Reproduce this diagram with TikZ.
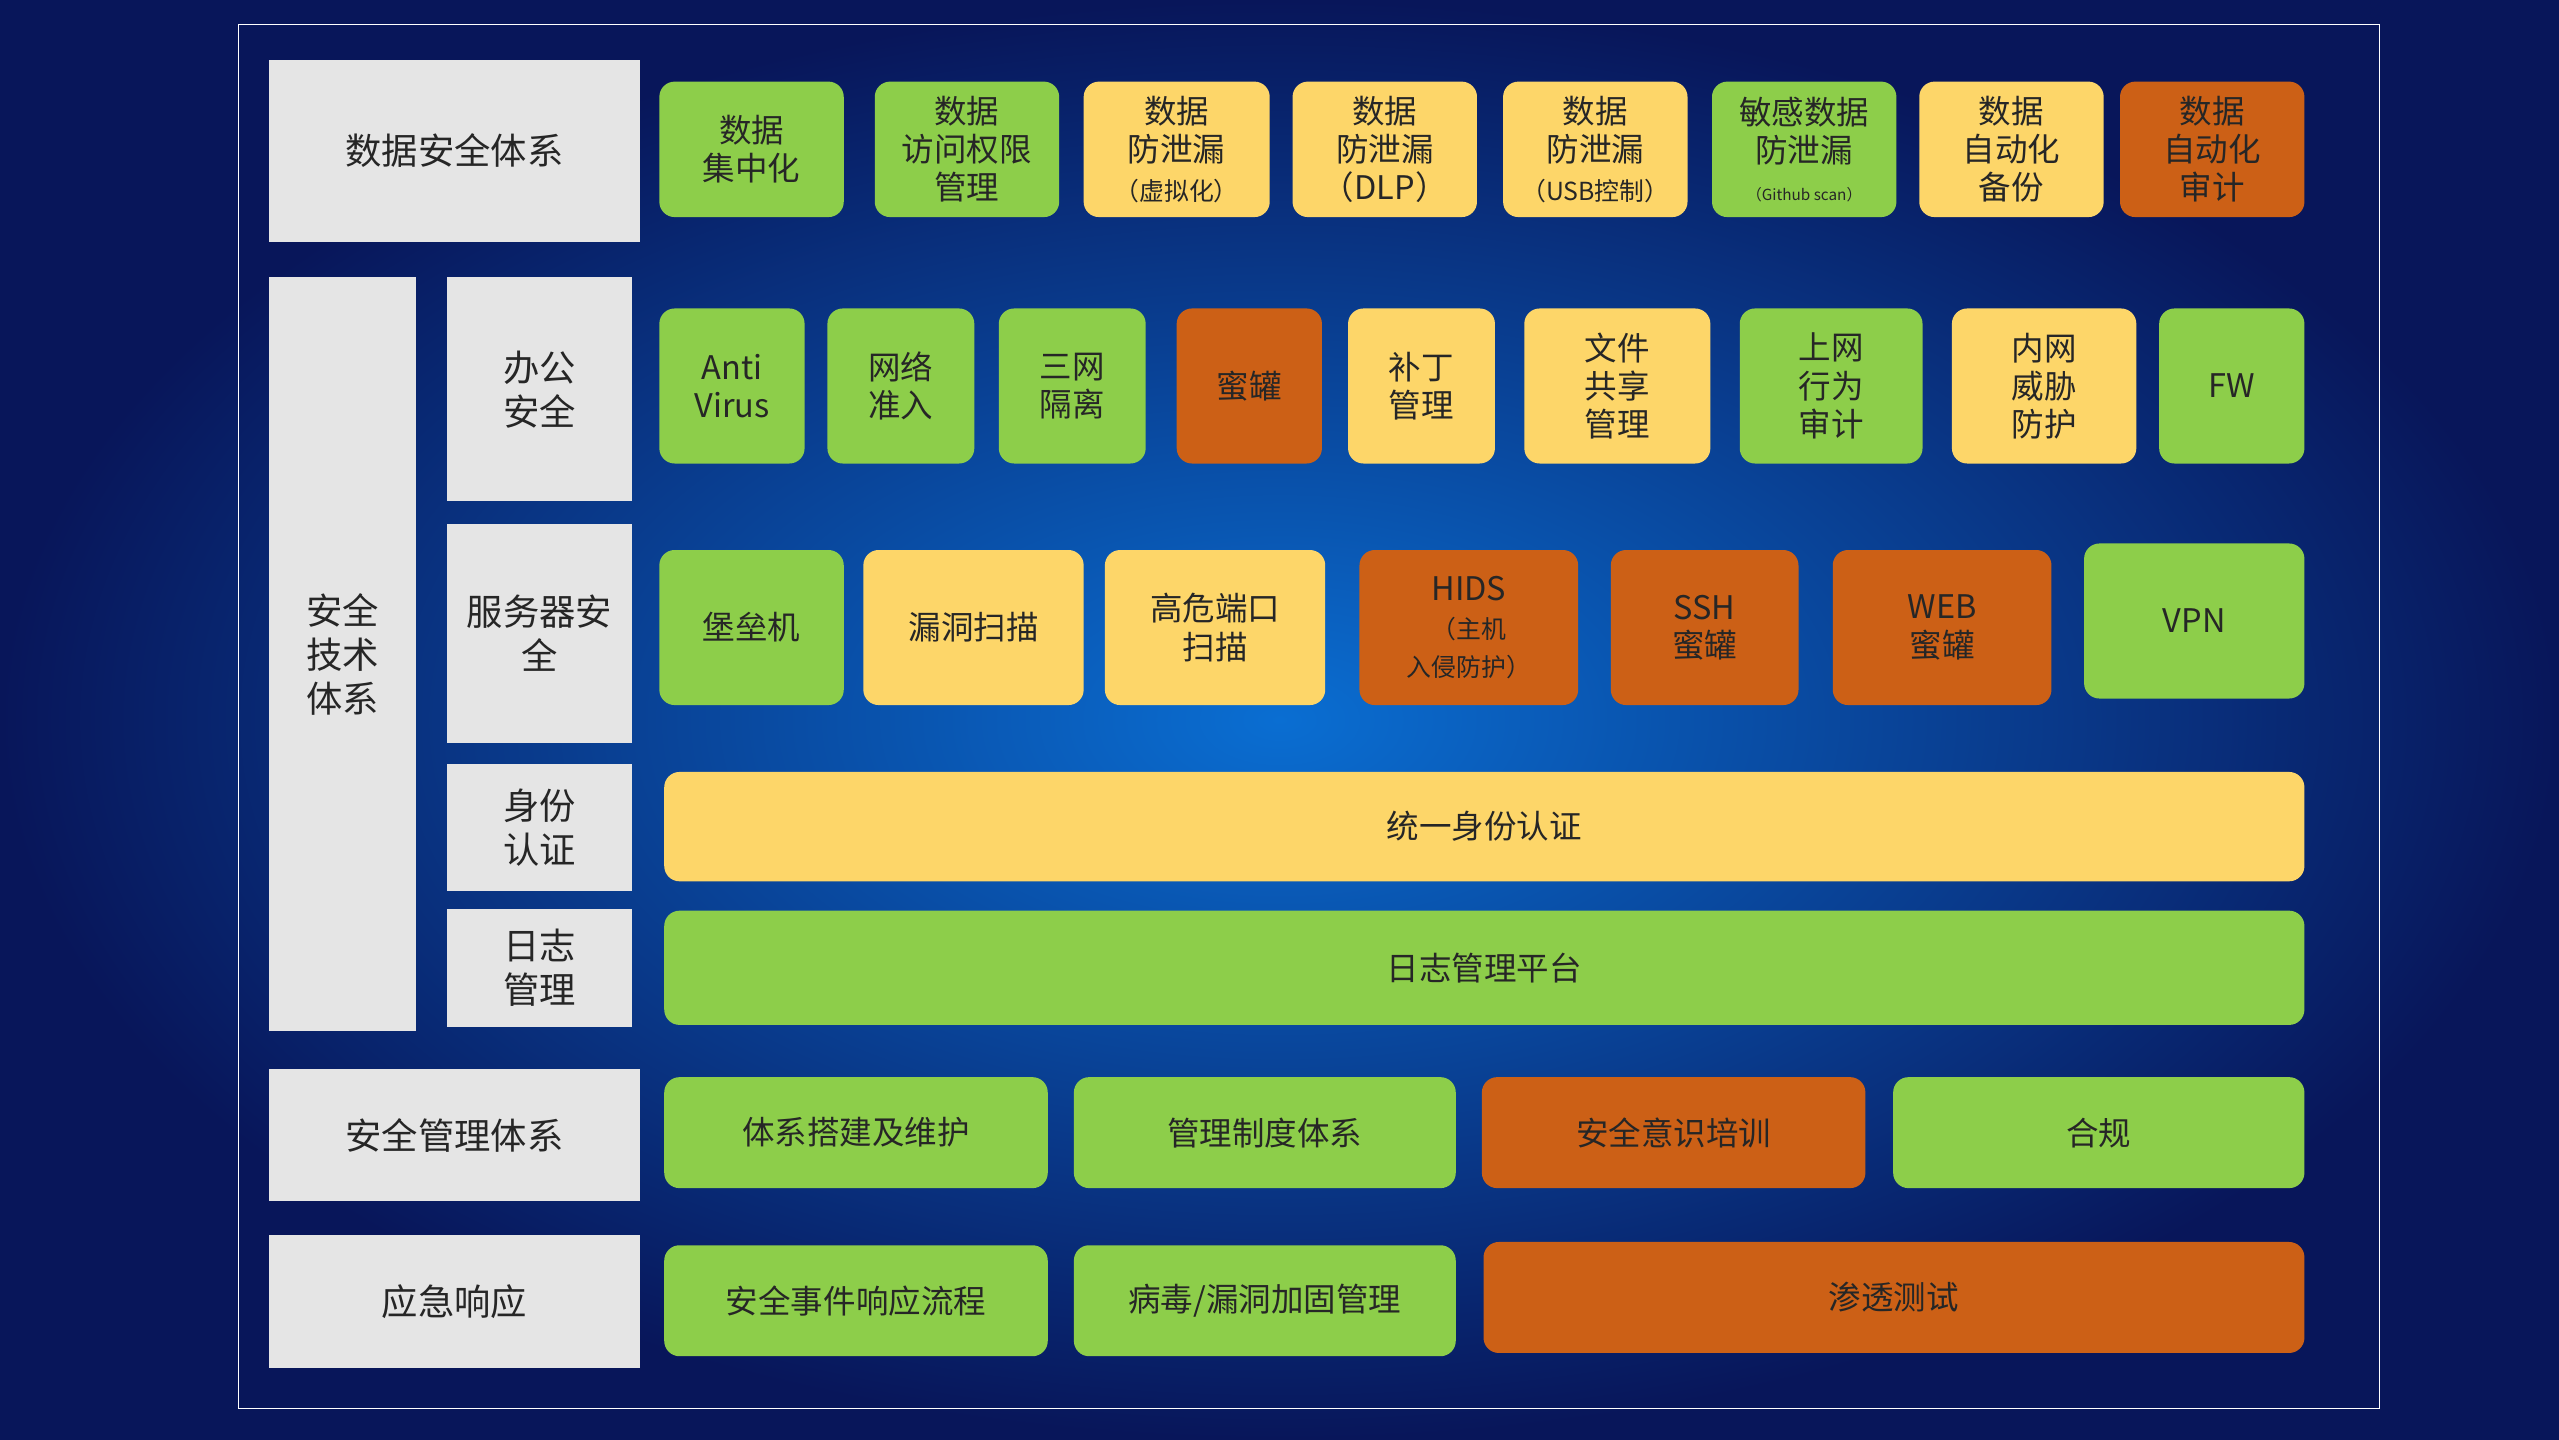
\documentclass[tikz,border=0pt]{standalone}
\usepackage{fontspec}
\setmainfont{Noto Sans CJK SC}
\begin{document}
\begin{tikzpicture}[x=0.03cm,y=-0.03cm,
  base/.style={inner sep=0pt,align=center,text=black!85,font=\fontsize{17}{20}\selectfont},
  gray/.style={base,fill=black!10,font=\fontsize{19}{23}\selectfont},
  grn/.style={base,fill=grnc,rounded corners=8pt},
  yel/.style={base,fill=yelc,rounded corners=8pt},
  org/.style={base,fill=orgc,rounded corners=8pt}]
\definecolor{grnc}{RGB}{141,206,74}
\definecolor{yelc}{RGB}{253,214,105}
\definecolor{orgc}{RGB}{204,96,22}
\newcommand\bx[7]{\node[#5,minimum width={(#3-#1)*0.03cm},minimum height={(#4-#2)*0.03cm}] (#7) at ({(#1+#3)/2},{(#2+#4)/2}) {#6};}
\newcommand\sm[1]{{\fontsize{13}{15}\selectfont #1}}
\useasboundingbox (0,0) rectangle (1568,882);
\shade[inner color={rgb,255:red,10;green,110;blue,210},outer color={rgb,255:red,8;green,22;blue,90}] (0,0) rectangle (1568,882);
\draw[white,line width=0.8pt] (146,15) rectangle (1458,863);
% left labels
\bx{165}{37}{392}{148}{gray}{数据安全体系}{l1}
\bx{165}{170}{255}{632}{gray}{安全\\技术\\体系}{l2}
\bx{274}{170}{387}{307}{gray}{办公\\安全}{l3}
\bx{274}{321}{387}{455}{gray}{服务器安\\全}{l4}
\bx{274}{468}{387}{546}{gray}{身份\\认证}{l5}
\bx{274}{557}{387}{629}{gray}{日志\\管理}{l6}
\bx{165}{655}{392}{736}{gray}{安全管理体系}{l7}
\bx{165}{757}{392}{838}{gray}{应急响应}{l8}
% row 1
\bx{404}{50}{517}{133}{grn}{数据\\集中化}{a1}
\bx{536}{50}{649}{133}{grn}{数据\\访问权限\\管理}{a2}
\bx{664}{50}{778}{133}{yel}{数据\\防泄漏\\\sm{（虚拟化）}}{a3}
\bx{792}{50}{905}{133}{yel}{数据\\防泄漏\\（DLP）}{a4}
\bx{921}{50}{1034}{133}{yel}{数据\\防泄漏\\\sm{（USB控制）}}{a5}
\bx{1049}{50}{1162}{133}{grn}{敏感数据\\防泄漏\\{\fontsize{8}{10}\selectfont （Github scan）}}{a6}
\bx{1176}{50}{1289}{133}{yel}{数据\\自动化\\备份}{a7}
\bx{1299}{50}{1412}{133}{org}{数据\\自动化\\审计}{a8}
% row 2
\bx{404}{189}{493}{284}{grn}{Anti\\Virus}{b1}
\bx{507}{189}{597}{284}{grn}{网络\\准入}{b2}
\bx{612}{189}{702}{284}{grn}{三网\\隔离}{b3}
\bx{721}{189}{810}{284}{org}{蜜罐}{b4}
\bx{826}{189}{916}{284}{yel}{补丁\\管理}{b5}
\bx{934}{189}{1048}{284}{yel}{文件\\共享\\管理}{b6}
\bx{1066}{189}{1178}{284}{grn}{上网\\行为\\审计}{b7}
\bx{1196}{189}{1309}{284}{yel}{内网\\威胁\\防护}{b8}
\bx{1323}{189}{1412}{284}{grn}{FW}{b9}
% row 3
\bx{404}{337}{517}{432}{grn}{堡垒机}{c1}
\bx{529}{337}{664}{432}{yel}{漏洞扫描}{c2}
\bx{677}{337}{812}{432}{yel}{高危端口\\扫描}{c3}
\bx{833}{337}{967}{432}{org}{HIDS\\\sm{（主机}\\\sm{入侵防护）}}{c4}
\bx{987}{337}{1102}{432}{org}{SSH\\蜜罐}{c5}
\bx{1123}{337}{1257}{432}{org}{WEB\\蜜罐}{c6}
\bx{1277}{333}{1412}{428}{grn}{VPN}{c7}
% rows 4,5
\bx{407}{473}{1412}{540}{yel}{统一身份认证}{d1}
\bx{407}{558}{1412}{628}{grn}{日志管理平台}{e1}
% row 6
\bx{407}{660}{642}{728}{grn}{体系搭建及维护}{f1}
\bx{658}{660}{892}{728}{grn}{管理制度体系}{f2}
\bx{908}{660}{1143}{728}{org}{安全意识培训}{f3}
\bx{1160}{660}{1412}{728}{grn}{合规}{f4}
% row 7
\bx{407}{763}{642}{831}{grn}{安全事件响应流程}{g1}
\bx{658}{763}{892}{831}{grn}{病毒/漏洞加固管理}{g2}
\bx{909}{761}{1412}{829}{org}{渗透测试}{g3}
\end{tikzpicture}
\end{document}
